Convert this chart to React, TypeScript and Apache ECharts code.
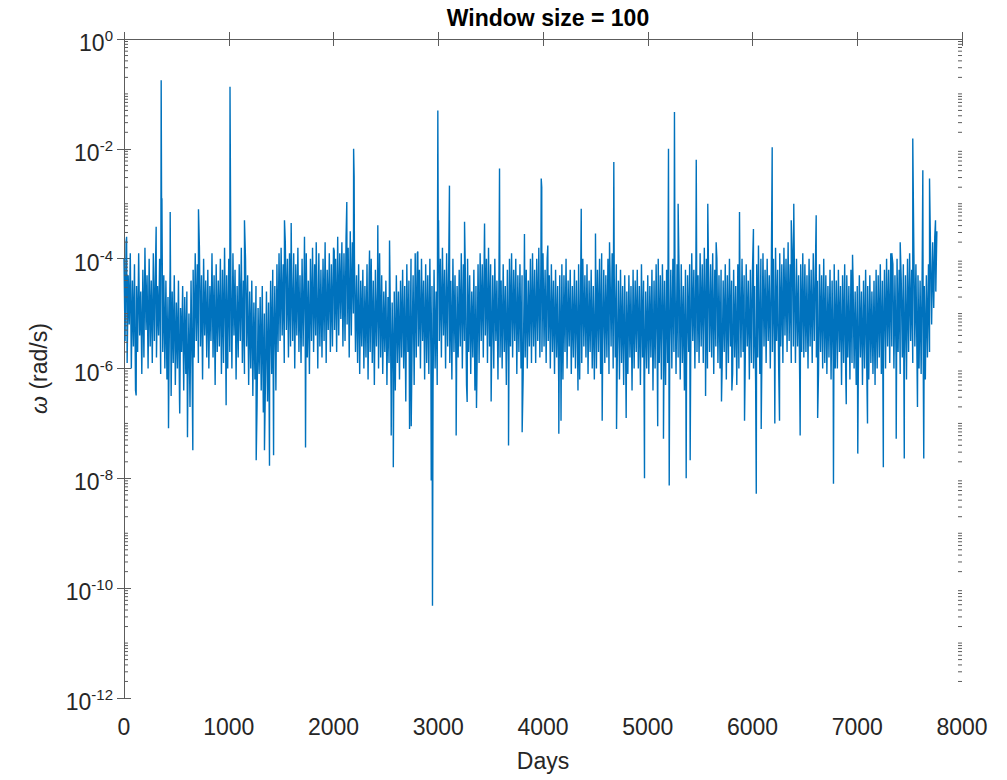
import React, { useEffect, useRef } from "react";
import * as echarts from "echarts";

// Values are log10(ω [rad/s]).
const TITLE = "Window size = 100";
const X_NAME = "Days";
const xMin = 0;
const xMax = 8000;
const xInterval = 1000;
const yExpMin = -12;
const yExpMax = 0;
const yExpInterval = 2;

const DAY_STEP = 10;
// dense band, one value every 10 days, one array per 1000 days
const block0 = [
  -4.0, -5.5, -3.7, -5.9, -4.3, -5.2, -3.9, -6.0, -4.4, -5.6,
  -4.1, -6.4, -4.5, -5.7, -3.9, -5.4, -4.6, -6.1, -4.2, -5.8,
  -3.8, -5.3, -4.3, -6.0, -4.0, -5.6, -4.4, -5.9, -3.9, -5.5,
  -4.2, -5.8, -4.5, -5.4, -4.0, -6.1, -3.8, -5.7, -4.3, -6.0,
  -4.4, -6.2, -4.7, -5.8, -4.2, -6.5, -4.6, -5.9, -4.3, -6.3,
  -4.8, -6.0, -4.4, -6.6, -4.9, -5.7, -4.5, -6.4, -4.7, -6.1,
  -4.6, -6.3, -5.0, -6.7, -4.4, -6.0, -4.2, -5.8, -3.9, -5.5,
  -4.1, -5.9, -3.8, -5.6, -4.3, -6.2, -4.0, -5.4, -4.4, -5.8,
  -4.2, -6.0, -4.5, -5.5, -3.9, -5.8, -4.3, -6.3, -4.1, -5.7,
  -4.4, -5.6, -4.0, -6.1, -4.2, -5.9, -3.8, -5.5, -4.3, -6.0,
];
const block1 = [
  -4.0, -5.7, -4.3, -6.0, -3.9, -5.4, -4.2, -6.2, -4.5, -5.8,
  -4.1, -5.5, -3.8, -5.9, -4.4, -6.1, -4.0, -5.6, -4.3, -6.3,
  -4.6, -6.0, -4.4, -6.5, -4.8, -6.2, -4.5, -6.7, -4.9, -6.1,
  -4.7, -6.4, -4.5, -6.8, -5.0, -6.3, -4.6, -6.6, -4.8, -6.2,
  -4.4, -6.1, -4.2, -5.8, -4.5, -6.4, -4.1, -5.7, -3.9, -5.5,
  -3.8, -5.4, -4.1, -5.9, -3.7, -5.3, -4.0, -5.8, -3.9, -5.6,
  -4.2, -5.5, -3.9, -6.0, -4.1, -5.4, -3.8, -5.7, -4.3, -5.9,
  -4.0, -5.6, -4.2, -5.3, -3.9, -5.8, -4.4, -6.1, -4.0, -5.5,
  -3.8, -5.7, -4.1, -5.4, -4.3, -6.0, -3.9, -5.6, -4.2, -5.8,
  -4.0, -5.5, -3.7, -5.9, -4.2, -5.3, -3.9, -5.7, -4.1, -5.6,
];
const block2 = [
  -3.8, -5.3, -4.0, -5.7, -3.6, -5.4, -3.9, -5.1, -3.7, -5.6,
  -3.9, -5.5, -3.6, -5.2, -3.8, -5.8, -3.5, -5.4, -3.7, -5.0,
  -4.0, -5.7, -4.3, -5.9, -4.1, -6.1, -4.4, -5.6, -4.2, -6.0,
  -4.5, -5.8, -4.1, -6.2, -4.3, -5.7, -4.0, -5.9, -4.4, -6.3,
  -4.2, -5.6, -4.5, -6.0, -3.9, -5.8, -4.3, -6.1, -4.6, -5.7,
  -4.4, -6.3, -4.7, -5.9, -4.5, -6.5, -4.8, -6.1, -4.6, -6.4,
  -4.3, -5.9, -4.6, -6.2, -4.4, -5.8, -4.2, -6.0, -4.5, -6.6,
  -4.1, -5.7, -4.4, -6.1, -4.0, -5.6, -4.3, -6.3, -3.9, -5.8,
  -3.9, -5.6, -4.2, -6.0, -4.0, -5.5, -4.4, -6.2, -4.1, -5.9,
  -4.3, -6.1, -4.0, -5.8, -4.5, -6.4, -4.2, -6.0, -4.6, -6.3,
];
const block3 = [
  -3.7, -5.5, -4.0, -5.8, -3.8, -5.4, -4.2, -6.0, -3.9, -5.6,
  -4.1, -5.9, -4.4, -6.2, -4.0, -5.7, -4.3, -6.1, -4.5, -5.8,
  -4.2, -5.6, -3.9, -6.0, -4.1, -5.5, -4.4, -6.3, -4.0, -5.7,
  -4.3, -6.1, -4.6, -5.8, -4.2, -6.4, -4.5, -6.0, -4.1, -5.9,
  -3.9, -5.5, -4.1, -5.8, -3.7, -5.4, -4.0, -5.9, -3.8, -5.6,
  -4.1, -5.7, -4.3, -6.0, -4.0, -5.5, -4.4, -6.2, -4.2, -5.8,
  -4.4, -6.0, -4.1, -5.7, -4.5, -6.3, -4.2, -5.9, -4.0, -5.6,
  -3.9, -5.8, -4.2, -5.5, -4.0, -6.1, -4.3, -5.7, -4.1, -6.0,
  -4.3, -6.2, -4.5, -5.8, -4.2, -6.0, -4.4, -5.6, -4.0, -5.9,
  -3.9, -5.6, -4.2, -5.9, -4.0, -5.5, -3.8, -5.8, -4.1, -5.7,
];
const block4 = [
  -3.9, -5.6, -4.2, -5.9, -4.0, -5.5, -4.3, -6.0, -4.1, -5.7,
  -4.4, -6.1, -4.2, -5.8, -4.5, -6.3, -4.3, -5.9, -4.1, -6.2,
  -4.3, -5.7, -4.0, -6.0, -4.4, -5.6, -4.2, -6.1, -4.5, -5.8,
  -4.2, -6.0, -4.4, -5.7, -4.1, -6.2, -4.3, -5.9, -4.0, -5.6,
  -4.3, -5.8, -4.1, -6.1, -4.4, -5.7, -4.2, -6.0, -4.5, -6.2,
  -4.4, -6.0, -4.2, -5.7, -4.0, -6.1, -3.9, -5.6, -4.2, -5.9,
  -4.3, -5.8, -4.0, -6.1, -4.2, -5.6, -3.9, -6.0, -4.3, -5.8,
  -4.1, -5.7, -4.4, -6.2, -4.2, -5.9, -4.5, -6.3, -4.3, -6.0,
  -4.6, -6.1, -4.3, -5.8, -4.5, -6.4, -4.2, -6.0, -4.4, -5.7,
  -4.2, -6.0, -4.5, -6.3, -4.1, -5.8, -4.4, -6.2, -4.6, -6.0,
];
const block5 = [
  -4.3, -6.1, -4.5, -5.8, -4.2, -6.4, -4.4, -6.0, -4.1, -5.7,
  -4.0, -5.9, -4.3, -6.2, -4.1, -5.6, -4.4, -6.3, -4.2, -5.9,
  -3.9, -5.6, -4.2, -6.0, -4.0, -5.7, -4.3, -6.1, -4.1, -5.8,
  -4.4, -6.2, -4.1, -5.9, -4.5, -6.4, -4.2, -6.0, -4.3, -5.7,
  -4.1, -5.8, -3.9, -5.5, -4.2, -6.0, -4.0, -5.7, -4.3, -5.9,
  -3.9, -5.6, -4.1, -5.9, -3.8, -5.5, -4.0, -6.0, -4.2, -5.7,
  -4.1, -5.8, -3.9, -6.1, -4.2, -5.6, -4.0, -5.9, -4.3, -6.0,
  -4.2, -6.0, -4.4, -5.7, -4.1, -6.2, -4.3, -5.9, -4.0, -5.6,
  -4.4, -6.1, -4.2, -5.8, -4.5, -6.3, -4.1, -6.0, -4.3, -5.8,
  -4.0, -5.7, -4.3, -6.0, -4.1, -5.6, -4.4, -6.2, -4.2, -5.9,
];
const block6 = [
  -4.2, -6.0, -4.5, -6.3, -4.1, -5.8, -4.3, -6.1, -4.0, -5.7,
  -3.9, -5.6, -4.2, -5.9, -4.0, -5.5, -4.3, -6.0, -4.1, -5.7,
  -4.0, -5.8, -3.8, -5.5, -4.2, -6.0, -3.9, -5.6, -4.1, -5.9,
  -3.8, -5.4, -4.0, -5.7, -3.7, -5.5, -4.1, -5.9, -3.9, -5.6,
  -4.2, -5.9, -4.0, -5.6, -4.3, -6.1, -4.1, -5.7, -3.9, -5.8,
  -4.1, -5.7, -4.3, -6.0, -4.0, -5.6, -4.2, -5.9, -3.9, -5.5,
  -4.2, -5.8, -4.4, -6.1, -4.1, -5.7, -4.3, -6.0, -4.0, -5.9,
  -4.3, -6.1, -4.5, -5.8, -4.2, -6.2, -4.4, -5.9, -4.1, -6.0,
  -4.4, -6.0, -4.2, -5.7, -4.5, -6.3, -4.3, -5.9, -4.1, -6.1,
  -4.3, -5.8, -4.5, -6.2, -4.2, -5.9, -4.4, -6.0, -4.6, -6.3,
];
const block7 = [
  -4.5, -6.1, -4.3, -5.8, -4.6, -6.3, -4.4, -6.0, -4.2, -5.9,
  -4.5, -6.2, -4.3, -5.9, -4.6, -6.1, -4.4, -6.3, -4.2, -6.0,
  -4.3, -5.8, -4.1, -6.1, -4.4, -5.7, -4.2, -6.0, -4.0, -5.6,
  -4.2, -5.9, -3.9, -5.6, -4.1, -6.0, -4.3, -5.8, -4.0, -5.7,
  -4.2, -6.1, -4.4, -5.8, -4.1, -5.9, -4.3, -6.2, -4.0, -5.7,
  -3.9, -5.5, -4.2, -5.9, -3.8, -5.6, -4.1, -5.8, -4.3, -6.0,
  -4.4, -6.1, -4.2, -5.9, -4.5, -6.2, -4.3, -5.8, -4.1, -5.7,
  -3.9, -5.2, -3.7, -4.9, -3.6, -4.6, -3.5,
];
const blocks = [block0, block1, block2, block3, block4, block5, block6, block7];

// isolated peaks [day, log10 ω]
const peaks: [number, number][] = [
  [25, -3.6], [307, -3.42], [355, -0.75], [362, -2.9], [441, -3.15], [711, -3.1],
  [1012, -0.87], [1018, -3.3], [1150, -3.3], [1532, -3.3], [1596, -3.35], [1723, -3.6],
  [1835, -3.7], [2007, -3.86], [2127, -2.97], [2192, -2.0], [2197, -2.5], [2344, -3.85],
  [2423, -3.39], [2535, -3.67], [2805, -3.87], [2996, -1.3], [3003, -3.3], [3107, -2.67],
  [3251, -3.33], [3442, -3.36], [3585, -2.36], [3823, -3.55], [3983, -2.54], [3988, -2.7],
  [4046, -3.76], [4365, -3.09], [4501, -3.54], [4635, -3.7], [4676, -2.24], [5198, -2.0],
  [5255, -1.33], [5290, -3.0], [5463, -2.2], [5573, -3.0], [5653, -3.7], [5876, -3.15],
  [6009, -3.46], [6057, -3.76], [6188, -1.97], [6370, -3.3], [6394, -3.0], [6608, -3.21],
  [6955, -3.93], [7330, -3.9], [7410, -3.7], [7530, -1.81], [7626, -2.39], [7690, -2.54],
  [7747, -3.3],
];
// isolated dips [day, log10 ω]
const dips: [number, number][] = [
  [116, -6.49], [425, -7.09], [532, -6.82], [606, -7.25], [657, -7.49], [975, -6.67],
  [1262, -7.67], [1341, -7.49], [1389, -7.77], [1428, -7.58], [1733, -7.44], [2551, -7.22],
  [2571, -7.8], [2726, -7.1], [2742, -7.05], [2933, -8.04], [2945, -10.32], [3171, -7.22],
  [3276, -6.61], [3365, -6.72], [3505, -6.6], [3671, -7.4], [3801, -7.16], [4151, -7.19],
  [4172, -6.95], [4334, -6.4], [4565, -6.95], [4702, -7.1], [4794, -6.9], [4969, -8.0],
  [5095, -7.05], [5150, -7.28], [5205, -8.13], [5367, -8.0], [5405, -7.67], [5552, -6.5],
  [5704, -6.6], [5803, -6.4], [5924, -6.95], [6036, -8.28], [6083, -7.1], [6213, -7.0],
  [6258, -6.95], [6455, -7.22], [6622, -6.9], [6773, -8.1], [6895, -6.65], [7005, -7.55],
  [7098, -7.0], [7249, -7.8], [7372, -7.28], [7449, -7.64], [7575, -6.7], [7635, -7.64],
];

function buildSeries(): [number, number][] {
  const pts: [number, number][] = [];
  blocks.forEach((b, bi) => b.forEach((e, i) => pts.push([bi * 1000 + i * DAY_STEP, e])));
  peaks.forEach((p) => pts.push(p));
  dips.forEach((p) => pts.push(p));
  pts.sort((a, b) => a[0] - b[0]);
  return pts;
}

function minorTickValues(): number[] {
  const out: number[] = [];
  for (let k = yExpMin; k < yExpMax; k++) {
    for (let m = 1; m <= 9; m++) {
      if (m === 1 && (k - yExpMin) % yExpInterval === 0) continue;
      out.push(k + Math.log10(m));
    }
  }
  return out;
}

const AXIS_COLOR = "#5c5c5c";
const TEXT_COLOR = "#262626";
const FONT = "'Liberation Sans', Arial, Helvetica, sans-serif";

export default function App() {
  const ref = useRef<HTMLDivElement>(null);
  useEffect(() => {
    document.body.style.margin = "0";
    if (!ref.current) return;
    const chart = echarts.init(ref.current, null, { renderer: "svg" });
    const data = buildSeries();
    const minors = minorTickValues().map((v) => [0, v]);
    const yLabel = (v: number) => `{b|10}{s|${Math.round(v)}}`;
    chart.setOption({
      animation: false,
      backgroundColor: "#ffffff",
      textStyle: { fontFamily: FONT },
      title: {
        text: TITLE,
        left: 543,
        top: 1,
        textAlign: "center",
        textStyle: { fontFamily: FONT, fontSize: 23, fontWeight: "bold", color: "#000" },
      },
      grid: { left: 124, right: 45, top: 39, bottom: 82, containLabel: false },
      xAxis: [
        {
          type: "value",
          min: xMin,
          max: xMax,
          interval: xInterval,
          position: "bottom",
          name: X_NAME,
          nameLocation: "middle",
          nameGap: 51,
          nameTextStyle: { fontFamily: FONT, fontSize: 23, color: TEXT_COLOR },
          axisLine: { show: true, lineStyle: { color: AXIS_COLOR, width: 1 } },
          axisTick: { show: true, inside: true, length: 7, lineStyle: { color: AXIS_COLOR } },
          axisLabel: { fontFamily: FONT, fontSize: 23, color: TEXT_COLOR, margin: 17, formatter: (v: number) => String(v) },
          splitLine: { show: false },
        },
        {
          type: "value",
          min: xMin,
          max: xMax,
          interval: xInterval,
          position: "top",
          axisLine: { show: true, lineStyle: { color: AXIS_COLOR, width: 1 } },
          axisTick: { show: true, inside: true, length: 7, lineStyle: { color: AXIS_COLOR } },
          axisLabel: { show: false },
          splitLine: { show: false },
        },
      ],
      yAxis: [
        {
          type: "value",
          min: yExpMin,
          max: yExpMax,
          interval: yExpInterval,
          position: "left",
          name: "{i|ω} (rad/s)",
          nameLocation: "middle",
          nameGap: 74,
          nameTextStyle: {
            fontFamily: FONT,
            fontSize: 23,
            color: TEXT_COLOR,
            rich: { i: { fontFamily: FONT, fontSize: 23, fontStyle: "italic", color: TEXT_COLOR } },
          },
          axisLine: { show: true, lineStyle: { color: AXIS_COLOR, width: 1 } },
          axisTick: { show: true, inside: true, length: 7, lineStyle: { color: AXIS_COLOR } },
          axisLabel: {
            formatter: yLabel,
            margin: 11,
            color: TEXT_COLOR,
            rich: {
              b: { fontFamily: FONT, fontSize: 23, lineHeight: 22, padding: [8, 0, 0, 0], color: TEXT_COLOR },
              s: { fontFamily: FONT, fontSize: 15, lineHeight: 20, verticalAlign: "top", color: TEXT_COLOR },
            },
          },
          splitLine: { show: false },
        },
        {
          type: "value",
          min: yExpMin,
          max: yExpMax,
          interval: yExpInterval,
          position: "right",
          axisLine: { show: true, lineStyle: { color: AXIS_COLOR, width: 1 } },
          axisTick: { show: true, inside: true, length: 7, lineStyle: { color: AXIS_COLOR } },
          axisLabel: { show: false },
          splitLine: { show: false },
        },
      ],
      series: [
        {
          type: "line",
          xAxisIndex: 0,
          yAxisIndex: 0,
          data,
          showSymbol: false,
          symbol: "none",
          lineStyle: { color: "#0072BD", width: 1.4 },
          itemStyle: { color: "#0072BD" },
          z: 2,
        },
        {
          type: "custom",
          xAxisIndex: 0,
          yAxisIndex: 0,
          data: minors,
          silent: true,
          z: 3,
          renderItem: (_p: any, api: any) => {
            const v = api.value(1);
            const l = api.coord([xMin, v]);
            const r = api.coord([xMax, v]);
            return {
              type: "group",
              children: [
                { type: "line", shape: { x1: l[0], y1: l[1], x2: l[0] + 4, y2: l[1] }, style: { stroke: AXIS_COLOR, lineWidth: 1 } },
                { type: "line", shape: { x1: r[0] - 4, y1: r[1], x2: r[0], y2: r[1] }, style: { stroke: AXIS_COLOR, lineWidth: 1 } },
              ],
            };
          },
        },
      ],
    });
    return () => chart.dispose();
  }, []);
  return <div ref={ref} style={{ width: 1007, height: 780 }} />;
}
